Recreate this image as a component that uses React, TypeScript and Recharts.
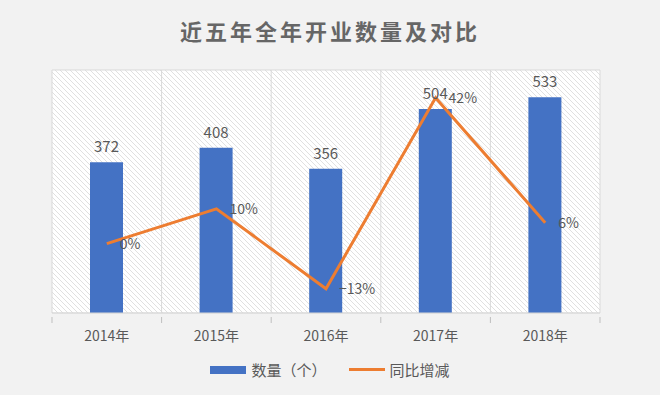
import { ComposedChart, Bar, Line, XAxis, YAxis, CartesianGrid, LabelList } from "recharts"

const years = ["2014年", "2015年", "2016年", "2017年", "2018年"]
const counts = [372, 408, 356, 504, 533]
const growth = [0, 0.10, -0.13, 0.42, 0.06]

const data = years.map((year, i) => ({ year, count: counts[i], growth: growth[i] }))

const W = 660
const H = 395
const M = { top: 70, right: 60, left: 52, bottom: 52 }
const BAND = (W - M.left - M.right) / years.length

const FONT = "'Noto Sans CJK SC', 'Noto Sans', sans-serif"
const TEXT = "#595959"

function XTick(props: any) {
  const { x, y, payload } = props
  return (
    <g>
      <line x1={x - BAND / 2} x2={x - BAND / 2} y1={y - 4} y2={y + 2} stroke="#bfbfbf" />
      {props.index === years.length - 1 && (
        <line x1={x + BAND / 2} x2={x + BAND / 2} y1={y - 4} y2={y + 2} stroke="#bfbfbf" />
      )}
      <text x={x} y={y + 20} textAnchor="middle" fill={TEXT} fontSize={14} fontFamily={FONT}>
        {payload.value}
      </text>
    </g>
  )
}

function LegendBox() {
  return (
    <div style={{ position: "absolute", top: 359, width: W, display: "flex", justifyContent: "center", alignItems: "center", fontFamily: FONT, fontSize: 15, color: TEXT }}>
      <span style={{ width: 36, height: 8, background: "#4472C4", display: "inline-block", marginRight: 5 }} />
      <span style={{ marginRight: 22 }}>数量（个）</span>
      <span style={{ width: 36, height: 3, background: "#ED7D31", display: "inline-block", marginRight: 5 }} />
      <span>同比增减</span>
    </div>
  )
}

export default function App() {
  return (
    <div style={{ width: W, height: H, background: "#f2f2f2", position: "relative", fontFamily: FONT }}>
      <style>{"body{margin:0}"}</style>
      <div style={{ position: "absolute", top: 14, width: W, textAlign: "center", fontSize: 22, fontWeight: 700, color: "#666666", letterSpacing: 3 }}>
        近五年全年开业数量及对比
      </div>
      <ComposedChart width={W} height={H} data={data} margin={M}>
        <defs>
          <pattern id="hatch" patternUnits="userSpaceOnUse" width="5" height="5">
            <rect width="5" height="5" fill="#ffffff" />
            <path d="M-1,-1 L6,6 M4,-1 L6,1 M-1,4 L1,6" stroke="#e0e0e0" strokeWidth="1" />
          </pattern>
        </defs>
        <CartesianGrid
          fill="url(#hatch)"
          stroke="#d9d9d9"
          verticalCoordinatesGenerator={({ offset }: any) =>
            years.map((_, i) => offset.left + i * (offset.width / years.length)).concat(offset.left + offset.width)
          }
        />
        <XAxis dataKey="year" axisLine={{ stroke: "#d9d9d9" }} tickLine={false} tick={<XTick />} height={30} interval={0} />
        <YAxis yAxisId="l" domain={[0, 600]} ticks={[0, 100, 200, 300, 400, 500, 600]} hide />
        <YAxis yAxisId="r" orientation="right" domain={[-0.2, 0.5]} hide />
        <Bar yAxisId="l" dataKey="count" fill="#4472C4" barSize={33} isAnimationActive={false}>
          <LabelList dataKey="count" position="top" offset={10} fill={TEXT} fontSize={15} fontFamily={FONT} />
        </Bar>
        <Line
          yAxisId="r"
          dataKey="growth"
          stroke="#ED7D31"
          strokeWidth={3}
          dot={false}
          activeDot={false}
          isAnimationActive={false}
        >
          <LabelList
            dataKey="growth"
            position="right"
            offset={13}
            fill={TEXT}
            fontSize={14}
            fontFamily={FONT}
            formatter={(v: any) => `${Math.round(v * 100)}%`.replace("-", "−")}
          />
        </Line>
      </ComposedChart>
      <LegendBox />
    </div>
  )
}
